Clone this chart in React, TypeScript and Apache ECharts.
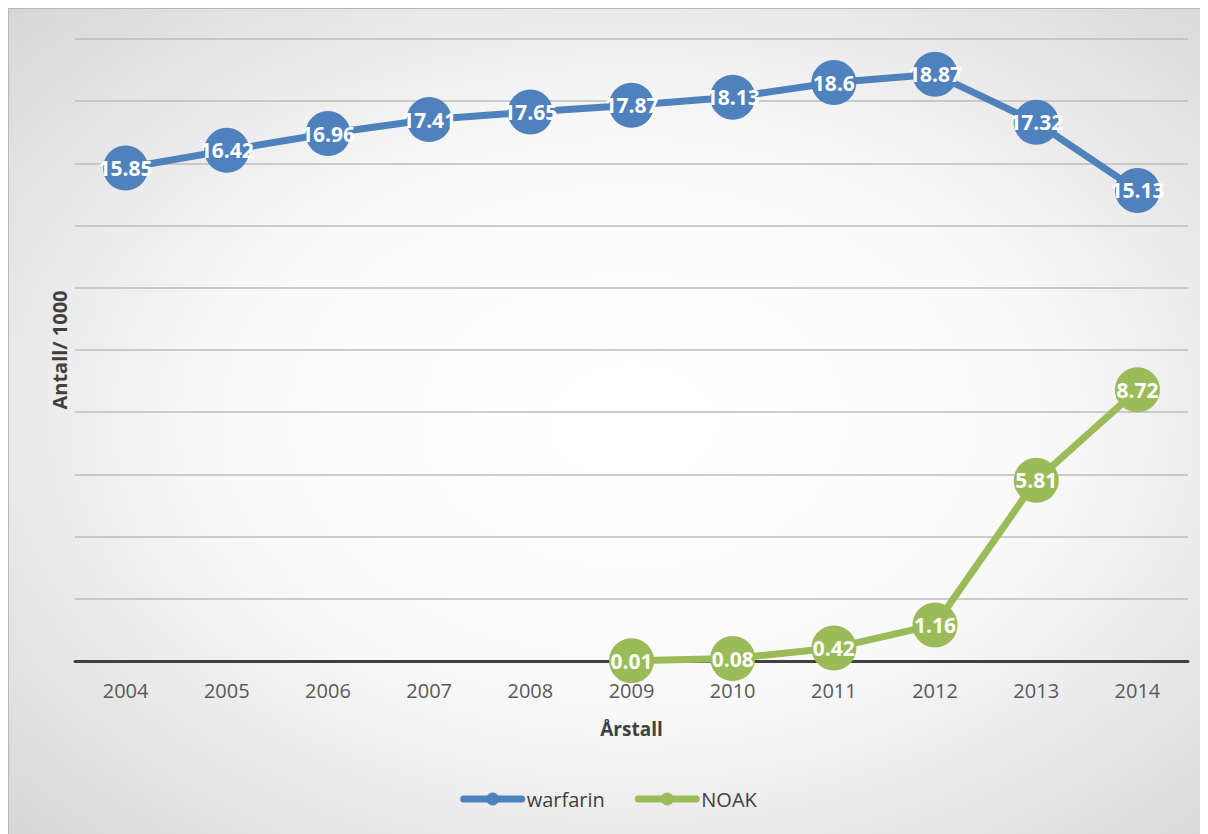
import React, { useEffect, useRef } from "react";
import * as echarts from "echarts";

const years = ["2004", "2005", "2006", "2007", "2008", "2009", "2010", "2011", "2012", "2013", "2014"];
const warfarin = [15.85, 16.42, 16.96, 17.41, 17.65, 17.87, 18.13, 18.6, 18.87, 17.32, 15.13];
const noak = [null, null, null, null, null, 0.01, 0.08, 0.42, 1.16, 5.81, 8.72];
const seriesNames = ["warfarin", "NOAK"];
const yAxisTitle = "Antall/ 1000";
const xAxisTitle = "Årstall";

const FONT = "'Open Sans', 'Liberation Sans', sans-serif";

export default function App() {
  const ref = useRef<HTMLDivElement>(null);
  useEffect(() => {
    if (!ref.current) return;
    const chart = echarts.init(ref.current, undefined, { renderer: "svg" });
    const label = {
      show: true,
      position: "inside",
      color: "#ffffff",
      fontWeight: "bold",
      fontSize: 21,
      fontFamily: FONT,
    };
    chart.setOption({
      animation: false,
      backgroundColor: {
        type: "radial",
        x: 0.52,
        y: 0.5,
        r: 0.95,
        colorStops: [
          { offset: 0, color: "#ffffff" },
          { offset: 0.35, color: "#fafafa" },
          { offset: 1, color: "#c2c2c2" },
        ],
      },
      textStyle: { fontFamily: FONT },
      grid: { left: 66, right: 20, top: 30, bottom: 173 },
      legend: {
        bottom: 20,
        left: "center",
        itemWidth: 58,
        itemHeight: 16,
        itemGap: 30,
        textStyle: { color: "#404040", fontSize: 20, fontFamily: FONT },
        lineStyle: { width: 7, cap: "round" },
        data: seriesNames,
      },
      xAxis: {
        type: "category",
        data: years,
        boundaryGap: true,
        axisLine: { lineStyle: { color: "#404040", width: 3 } },
        axisTick: { show: false },
        axisLabel: { color: "#595959", fontSize: 20, margin: 19, fontFamily: FONT },
        name: xAxisTitle,
        nameLocation: "middle",
        nameGap: 58,
        nameTextStyle: { color: "#404040", fontSize: 19, fontWeight: "bold", fontFamily: FONT },
      },
      yAxis: {
        type: "value",
        min: 0,
        max: 20,
        interval: 2,
        axisLine: { show: false },
        axisTick: { show: false },
        axisLabel: { show: false },
        splitLine: { lineStyle: { color: "#bcbcbc", width: 1.5 } },
        name: yAxisTitle,
        nameLocation: "middle",
        nameGap: 6,
        nameRotate: 90,
        nameTextStyle: { color: "#404040", fontSize: 20, fontWeight: "bold", fontFamily: FONT },
      },
      series: [
        {
          name: seriesNames[0],
          type: "line",
          data: warfarin,
          symbol: "circle",
          symbolSize: 45,
          color: "#4f81bd",
          lineStyle: { width: 7, color: "#4f81bd" },
          itemStyle: { color: "#4f81bd" },
          label,
          z: 3,
        },
        {
          name: seriesNames[1],
          type: "line",
          data: noak,
          symbol: "circle",
          symbolSize: 45,
          color: "#9bbb59",
          lineStyle: { width: 7, color: "#9bbb59" },
          itemStyle: { color: "#9bbb59" },
          label,
          z: 3,
        },
      ],
    });
    return () => chart.dispose();
  }, []);
  return (
    <div style={{ width: 1200, height: 826, borderTop: "1px solid #b8b8b8", borderLeft: "1px solid #b8b8b8", boxSizing: "border-box" }}>
      <div ref={ref} style={{ width: 1199, height: 825 }} />
    </div>
  );
}
